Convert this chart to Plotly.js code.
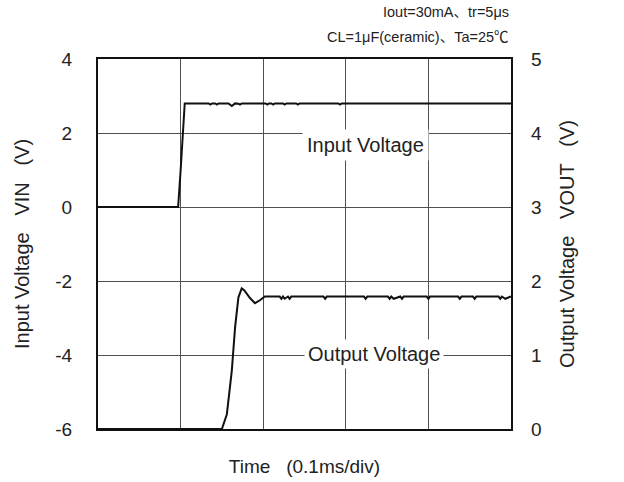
<!DOCTYPE html>
<html>
<head>
<meta charset="utf-8">
<script src="https://cdn.plot.ly/plotly-3.0.1.min.js"></script>
<style>html,body{margin:0;padding:0;background:#fff;}#chart{width:624px;height:482px;}</style>
</head>
<body>
<div id="chart"></div>
<script>
// Time in divisions (0.1 ms/div)
const inTime = [0, 0.97, 1.00, 1.03, 1.05, 1.20, 1.34, 1.36, 1.38, 1.42, 1.44, 1.46, 1.58, 1.62, 1.66, 1.70, 1.72, 1.74, 1.85, 1.90, 2.03, 2.05, 2.07, 2.10, 2.12, 2.14, 2.24, 2.26, 2.28, 2.40, 2.42, 2.44, 2.91, 2.93, 2.95, 5.00];
const inVolt = [0, 0, 0.98, 2.07, 2.80, 2.80, 2.80, 2.77, 2.80, 2.80, 2.77, 2.80, 2.80, 2.73, 2.80, 2.79, 2.77, 2.80, 2.80, 2.79, 2.80, 2.77, 2.80, 2.80, 2.77, 2.80, 2.80, 2.77, 2.80, 2.80, 2.77, 2.80, 2.80, 2.77, 2.80, 2.80];

const outTime = [0, 1.50, 1.56, 1.62, 1.66, 1.70, 1.74, 1.77, 1.84, 1.90, 1.96, 2.02, 2.20, 2.22, 2.24, 2.26, 2.30, 2.32, 2.34, 2.73, 2.75, 2.77, 3.22, 3.24, 3.26, 3.51, 3.53, 3.55, 3.58, 3.66, 3.68, 3.70, 3.98, 4.00, 4.02, 4.36, 4.38, 4.40, 4.54, 4.56, 4.58, 4.68, 4.85, 4.87, 4.89, 4.93, 5.00];
const outVolt = [0, 0, 0.20, 0.79, 1.38, 1.78, 1.90, 1.875, 1.77, 1.70, 1.74, 1.79, 1.79, 1.76, 1.79, 1.76, 1.79, 1.76, 1.79, 1.79, 1.76, 1.79, 1.79, 1.76, 1.79, 1.79, 1.76, 1.79, 1.76, 1.79, 1.76, 1.79, 1.79, 1.76, 1.79, 1.79, 1.76, 1.79, 1.79, 1.76, 1.79, 1.79, 1.79, 1.76, 1.79, 1.76, 1.79];

const leftTicks = [-6, -4, -2, 0, 2, 4];
const rightTicks = [0, 1, 2, 3, 4, 5];

const FONT = 'Liberation Sans, Arial, Noto Sans CJK JP, sans-serif';
const GRID = '#505050';
const SP = '\u00a0\u00a0\u00a0';

const traces = [
  {x: inTime, y: inVolt, type: 'scatter', mode: 'lines', yaxis: 'y',
   line: {color: '#111', width: 2}, hoverinfo: 'skip', name: 'Input Voltage'},
  {x: outTime, y: outVolt, type: 'scatter', mode: 'lines', yaxis: 'y2',
   line: {color: '#111', width: 2}, hoverinfo: 'skip', name: 'Output Voltage'}
];

const layout = {
  width: 624, height: 482,
  margin: {l: 98, r: 113, t: 59, b: 53, pad: 0},
  paper_bgcolor: '#fff', plot_bgcolor: '#fff',
  showlegend: false,
  font: {family: FONT, color: '#222', size: 19},
  xaxis: {
    range: [0, 5], dtick: 1, tick0: 0, showticklabels: false, ticks: '',
    showgrid: true, gridcolor: GRID, gridwidth: 1, zeroline: false,
    showline: true, linecolor: '#111', linewidth: 2, mirror: true,
    title: {text: 'Time' + SP + '(0.1ms/div)', font: {size: 19, family: FONT, color: '#222'}, standoff: 30}
  },
  yaxis: {
    range: [-6, 4], tickvals: leftTicks, ticktext: leftTicks.map(String), ticks: '',
    ticklabelstandoff: 20,
    tickfont: {size: 19, family: FONT, color: '#222'},
    showgrid: true, gridcolor: GRID, gridwidth: 1, zeroline: false,
    showline: true, linecolor: '#111', linewidth: 2, mirror: true,
    title: {text: 'Input Voltage' + SP + 'VIN' + SP + '(V)', font: {size: 20, family: FONT, color: '#222'}, standoff: 20}
  },
  yaxis2: {
    range: [0, 5], tickvals: rightTicks, ticktext: rightTicks.map(String), ticks: '',
    ticklabelstandoff: 19,
    tickfont: {size: 19, family: FONT, color: '#222'},
    overlaying: 'y', side: 'right', showgrid: false, zeroline: false,
    showline: false,
    title: {text: 'Output Voltage' + SP + 'VOUT' + SP + '(V)', font: {size: 20, family: FONT, color: '#222'}, standoff: 18}
  },
  annotations: [
    {text: 'Input Voltage', xref: 'x', yref: 'y', x: 3.24, y: 1.68, showarrow: false,
     font: {size: 20, family: FONT, color: '#222'}, bgcolor: '#fff', borderpad: 4},
    {text: 'Output Voltage', xref: 'x', yref: 'y2', x: 3.34, y: 1.02, showarrow: false,
     font: {size: 20, family: FONT, color: '#222'}, bgcolor: '#fff', borderpad: 3},
    {text: 'Iout=30mA、tr=5μs', xref: 'paper', yref: 'paper', x: 1.0, y: 1.0, xanchor: 'right', yanchor: 'middle',
     yshift: 47, showarrow: false, font: {size: 14.5, family: FONT, color: '#222'}},
    {text: 'CL=1μF(ceramic)、Ta=25℃', xref: 'paper', yref: 'paper', x: 1.0, y: 1.0, xanchor: 'right', yanchor: 'middle',
     yshift: 22, showarrow: false, font: {size: 14.5, family: FONT, color: '#222'}}
  ]
};

Plotly.newPlot('chart', traces, layout, {displayModeBar: false, staticPlot: true});
</script>
</body>
</html>
